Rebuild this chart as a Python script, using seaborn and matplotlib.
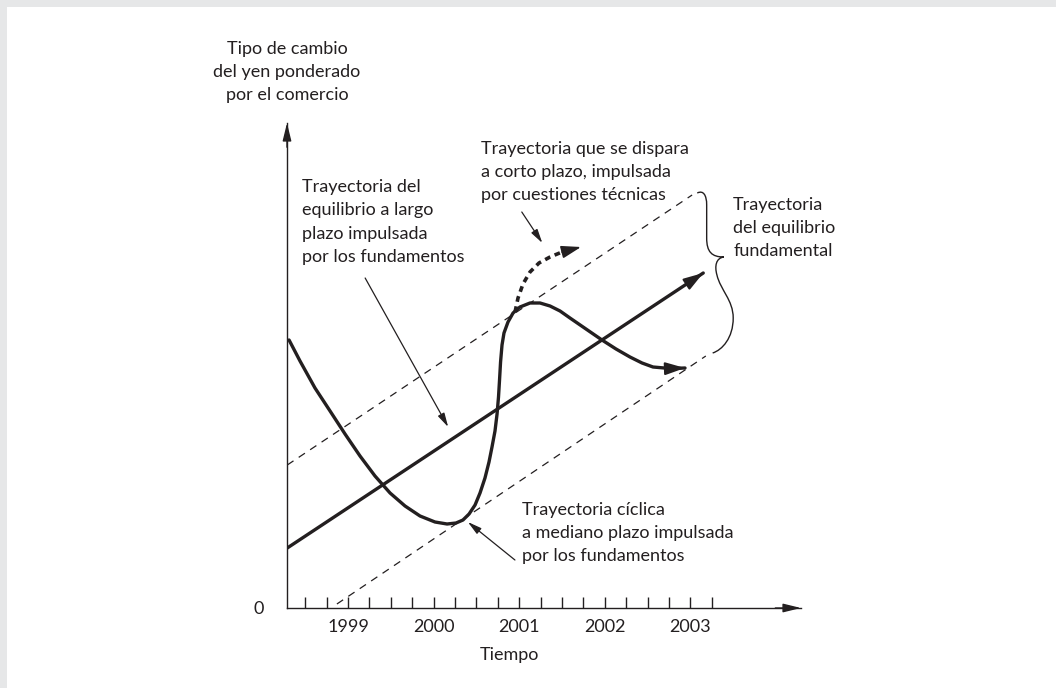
import numpy as np
import matplotlib
matplotlib.use("Agg")
import matplotlib.pyplot as plt
import seaborn as sns
from matplotlib.path import Path
from matplotlib.patches import PathPatch, Rectangle

# ---------------- data (years on x, index value on y; 0 = time axis) ----------------
year_ticks = [1999, 2000, 2001, 2002, 2003]
year_labels = ["1999", "2000", "2001", "2002", "2003"]
quarter_ticks = [1998.5 + 0.25 * k for k in range(20)]

long_run_x = [1998.29, 2003.15]
long_run_y = [60, 335]

band_upper_x = [1998.29, 2003.02]
band_upper_y = [143, 413]
band_lower_x = [1998.87, 2003.18]
band_lower_y = [4, 252]

cyc_x = [1998.311, 1998.439, 1998.614, 1998.790, 1998.965, 1999.140, 1999.315,
         1999.491, 1999.666, 1999.841, 2000.016, 2000.157, 2000.262, 2000.343,
         2000.414, 2000.484, 2000.542, 2000.600, 2000.647, 2000.682, 2000.717,
         2000.741, 2000.758, 2000.770, 2000.782, 2000.799, 2000.822, 2000.869,
         2000.928, 2001.009, 2001.126, 2001.243, 2001.360, 2001.477, 2001.593,
         2001.780, 2001.967, 2002.131, 2002.294, 2002.435, 2002.563, 2002.762,
         2002.937]
cyc_y = [268, 247, 220, 197, 174, 152, 132,
         115, 102, 92, 86, 84, 85, 88,
         94, 103, 115, 130, 146, 161, 177,
         194, 211, 228, 246, 263, 275, 286,
         295, 301, 305, 305, 302, 297, 290,
         279, 268, 259, 251, 245, 241, 239.5,
         240]

over_x = [2000.951, 2000.986, 2001.044, 2001.126, 2001.231, 2001.360, 2001.500, 2001.722]
over_y = [296, 310, 324, 336, 345, 351, 356, 361]

# curly brace (Bezier control points, data coordinates)
brace_x = [2003.08, 2003.15, 2003.19, 2003.19, 2003.19, 2003.19, 2003.25, 2003.39,
           2003.30, 2003.28, 2003.31, 2003.35, 2003.50, 2003.50, 2003.50, 2003.37, 2003.26]
brace_y = [415, 418, 413, 403, 370, 356, 351, 351,
           350, 342, 333, 318, 308, 290, 270, 258, 255]

ink = "#231f20"
fs = 13

sns.set_theme(style="white")
plt.rcParams["font.family"] = ["Lato", "DejaVu Sans"]

fig = plt.figure(figsize=(10.56, 6.88), dpi=100)
fig.patch.set_facecolor("white")
fig.add_artist(Rectangle((0, 0), 7 / 1056, 1, transform=fig.transFigure,
                         color="#e6e7e8", zorder=0, lw=0))
fig.add_artist(Rectangle((0, 1 - 7 / 688), 1, 7 / 688, transform=fig.transFigure,
                         color="#e6e7e8", zorder=0, lw=0))

ax = fig.add_axes([287 / 1056, 80 / 688, 514 / 1056, 485 / 688])
ax.set_facecolor("none")
ax.set_xlim(1998.287, 2004.292)
ax.set_ylim(0, 485)

# axes
for s in ["top", "right"]:
    ax.spines[s].set_visible(False)
for s in ["left", "bottom"]:
    ax.spines[s].set_color(ink)
    ax.spines[s].set_linewidth(1.0)
    ax.spines[s].set_zorder(1)
ax.set_xticks(year_ticks)
ax.set_xticklabels(year_labels, fontsize=fs, color=ink)
ax.set_xticks(quarter_ticks, minor=True)
ax.tick_params(axis="x", which="both", direction="in", length=8, width=1.0,
               color=ink, bottom=True, pad=8)
ax.set_yticks([0])
ax.set_yticklabels(["0"], fontsize=fs, color=ink)
ax.tick_params(axis="y", length=0, pad=17, left=True)
ax.set_xlabel("")
ax.set_ylabel("")
ax.grid(False)

axis_head = "-|>,head_length=0.9,head_width=0.22"
ax.annotate("", xy=(1, 0), xycoords="axes fraction", xytext=(0.95, 0),
            arrowprops=dict(arrowstyle=axis_head, color=ink, lw=1.0,
                            shrinkA=0, shrinkB=0), annotation_clip=False)
ax.annotate("", xy=(0, 1), xycoords="axes fraction", xytext=(0, 0.95),
            arrowprops=dict(arrowstyle=axis_head, color=ink, lw=1.0,
                            shrinkA=0, shrinkB=0), annotation_clip=False)

# band (dashed)
sns.lineplot(x=band_upper_x, y=band_upper_y, ax=ax, color=ink, lw=0.9,
             linestyle=(0, (6, 5)), sort=False, estimator=None)
sns.lineplot(x=band_lower_x, y=band_lower_y, ax=ax, color=ink, lw=0.9,
             linestyle=(0, (6, 5)), sort=False, estimator=None)

# long-run equilibrium path
sns.lineplot(x=long_run_x, y=long_run_y, ax=ax, color=ink, lw=2.4,
             sort=False, estimator=None)
big_head = "-|>,head_length=1.0,head_width=0.32"
ax.annotate("", xy=(long_run_x[-1], long_run_y[-1]),
            xytext=(long_run_x[-1] - 0.2, long_run_y[-1] - 0.2 * 56.6),
            arrowprops=dict(arrowstyle=big_head, color=ink, lw=1.5,
                            shrinkA=0, shrinkB=0))

# cyclical path
sns.lineplot(x=cyc_x, y=cyc_y, ax=ax, color=ink, lw=2.4, sort=False,
             estimator=None, solid_joinstyle="round", solid_capstyle="round")
ax.annotate("", xy=(cyc_x[-1], cyc_y[-1]), xytext=(cyc_x[-2], cyc_y[-2]),
            arrowprops=dict(arrowstyle=big_head, color=ink, lw=1.5,
                            shrinkA=0, shrinkB=0))

# overshooting path (thick dotted)
sns.lineplot(x=over_x[:-1], y=over_y[:-1], ax=ax, color=ink, lw=2.6,
             linestyle=(0, (1.6, 1.3)), sort=False, estimator=None)
ax.annotate("", xy=(over_x[-1], over_y[-1]), xytext=(over_x[-2], over_y[-2]),
            arrowprops=dict(arrowstyle=big_head, color=ink, lw=1.2,
                            shrinkA=0, shrinkB=0))

# curly brace
codes = [Path.MOVETO] + [Path.CURVE4] * 3 + [Path.LINETO] + [Path.CURVE4] * 3 + \
        [Path.CURVE4] * 3 + [Path.CURVE4] * 3 + [Path.CURVE4] * 3
ax.add_patch(PathPatch(Path(np.column_stack([brace_x, brace_y]), codes),
                       fill=False, edgecolor=ink, lw=1.0, clip_on=False))

# thin pointer arrows
thin = dict(arrowstyle="-|>,head_length=0.7,head_width=0.18", color=ink, lw=0.9,
            shrinkA=0, shrinkB=0)
ax.annotate("", xy=(2000.17, 181), xytext=(1999.20, 330), arrowprops=thin)
ax.annotate("", xy=(2000.40, 86), xytext=(2000.95, 48), arrowprops=thin)
ax.annotate("", xy=(2001.27, 365), xytext=(2001.03, 396), arrowprops=thin)

# texts
tk = dict(fontsize=fs, color=ink, linespacing=1.55, clip_on=False)
ax.text(1998.287, 536, "Tipo de cambio\ndel yen ponderado\npor el comercio",
        ha="center", va="center", **tk)
ax.text(2000.55, 436, "Trayectoria que se dispara\na corto plazo, impulsada\npor cuestiones técnicas",
        ha="left", va="center", **tk)
ax.text(1998.46, 386, "Trayectoria del\nequilibrio a largo\nplazo impulsada\npor los fundamentos",
        ha="left", va="center", **tk)
ax.text(2003.50, 380, "Trayectoria\ndel equilibrio\nfundamental",
        ha="left", va="center", **tk)
ax.text(2001.03, 75, "Trayectoria cíclica\na mediano plazo impulsada\npor los fundamentos",
        ha="left", va="center", **tk)
ax.text(2000.89, -47, "Tiempo", ha="center", va="center", **tk)

fig.savefig("out.png", dpi=100, facecolor=fig.get_facecolor())
